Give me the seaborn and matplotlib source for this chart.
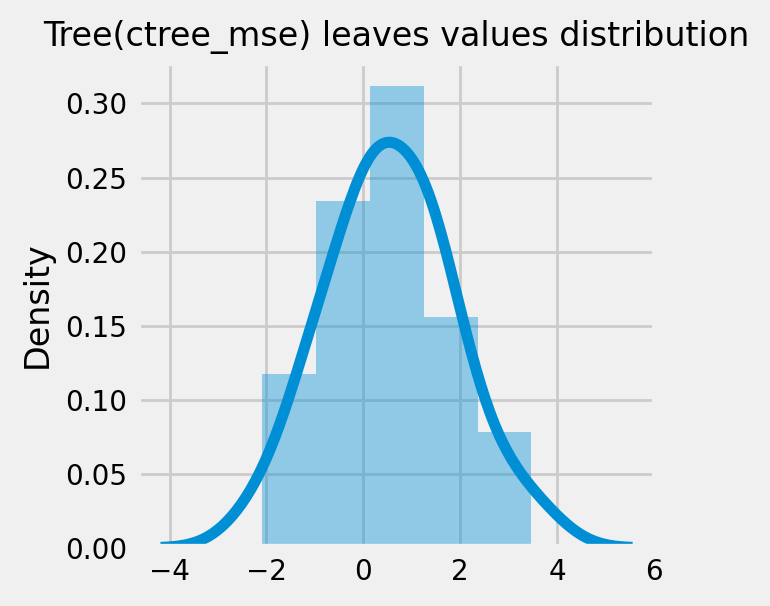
import numpy as np
import pandas as pd
import seaborn as sns
import matplotlib
matplotlib.use("Agg")
import matplotlib.pyplot as plt

# leaf values of the tree, estimated from the histogram bins (counts 3, 6, 8, 4, 2)
# and from the shape of the density curve
bin1_values = [-2.098, -0.99, -0.99]
bin2_values = [-0.975, -0.955, -0.18, 0.125, 0.125, 0.125]
bin3_values = [0.285, 0.285, 0.29, 0.295, 1.24, 1.24, 1.24, 1.24]
bin4_values = [1.40, 1.43, 1.50, 2.35]
bin5_values = [2.41, 3.474]

leaves = pd.Series(bin1_values + bin2_values + bin3_values + bin4_values + bin5_values, name="leaves")

plt.style.use("fivethirtyeight")
plt.rcParams["font.family"] = ["DejaVu Sans"]

fig, ax = plt.subplots(figsize=(3.85, 3.03), dpi=200)
fig.subplots_adjust(left=0.178, right=0.852, bottom=0.096, top=0.897)

color = "#008fd5"
sns.histplot(leaves, bins=5, stat="density", color=color, alpha=0.4, linewidth=0, ax=ax)
sns.kdeplot(leaves, color=color, linewidth=4, ax=ax)

ax.set_title("Tree(ctree_mse) leaves values distribution", fontsize=12)
ax.set_ylabel("Density", fontsize=12)
ax.set_xlabel("")
ax.tick_params(labelsize=10)
ax.set_xticks([-4, -2, 0, 2, 4, 6])

fig.savefig("out.png", dpi=200)
plt.close()
